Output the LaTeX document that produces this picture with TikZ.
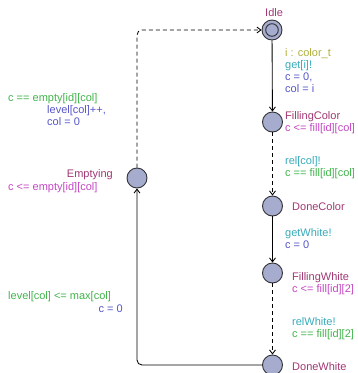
\documentclass[tikz,border=0pt]{standalone}
\usepackage{fontspec}
\setmainfont{Liberation Sans}
\usetikzlibrary{arrows.meta}
\definecolor{locfill}{RGB}{165,172,205}
\definecolor{locdraw}{RGB}{50,50,55}
\definecolor{namecol}{RGB}{160,55,115}
\definecolor{invcol}{RGB}{195,70,195}
\definecolor{selcol}{RGB}{175,175,60}
\definecolor{synccol}{RGB}{55,170,185}
\definecolor{updcol}{RGB}{85,85,200}
\definecolor{guardcol}{RGB}{65,180,75}
\tikzset{
  loc/.style={circle, draw=locdraw, fill=locfill, line width=0.9pt, minimum size=20pt, inner sep=0pt},
  lbl/.style={anchor=base west, inner sep=0pt, font=\fontsize{11}{12}\selectfont},
  lble/.style={anchor=base east, inner sep=0pt, font=\fontsize{11}{12}\selectfont},
  edge/.style={draw=black, line width=0.85pt, -{Straight Barb[length=4pt,width=6pt]}},
  dedge/.style={edge, dash pattern=on 4pt off 3pt},
}
\begin{document}
\begin{tikzpicture}[x=1pt,y=-1pt]
\useasboundingbox (0,0) rectangle (358,373);
% locations
\node[loc] (Idle) at (272,30) {};
\draw[locdraw, line width=0.9pt] (Idle.center) circle (6.3pt);
\node[loc] (FillingColor) at (272.5,122) {};
\node[loc] (DoneColor) at (272.5,206) {};
\node[loc] (FillingWhite) at (272.5,273) {};
\node[loc] (DoneWhite) at (272.5,365) {};
\node[loc] (Emptying) at (137,178) {};
% edges
\draw[edge] (Idle) -- (FillingColor);
\draw[dedge] (FillingColor) -- (DoneColor);
\draw[edge] (DoneColor) -- (FillingWhite);
\draw[dedge] (FillingWhite) -- (DoneWhite);
\draw[edge, rounded corners=5pt] (DoneWhite) -| (Emptying);
\draw[dedge, rounded corners=5pt] (Emptying) |- (Idle);
% right labels
\node[lbl, text=namecol] (tIdle) at (265,16.5) {Idle};
\node[lbl, text=selcol] (t1) at (285,56) {i : color\_t};
\node[lbl, text=synccol] (t2) at (285,68) {get[i]!};
\node[lbl, text=updcol] (t3) at (285,80) {c = 0,};
\node[lbl, text=updcol] (t4) at (285,92) {col = i};
\node[lbl, text=namecol] (tFC) at (285,119) {FillingColor};
\node[lbl, text=invcol] (t5) at (285,131) {c <= fill[id][col]};
\node[lbl, text=synccol] (t6) at (285,164) {rel[col]!};
\node[lbl, text=guardcol] (t7) at (285,176) {c == fill[id][col]};
\node[lbl, text=namecol] (tDC) at (292,210) {DoneColor};
\node[lbl, text=synccol] (t8) at (285,236) {getWhite!};
\node[lbl, text=updcol] (t9) at (285,248) {c = 0};
\node[lbl, text=namecol] (tFW) at (292,280) {FillingWhite};
\node[lbl, text=invcol] (t10) at (292,292) {c <= fill[id][2]};
\node[lbl, text=synccol] (t11) at (292,325) {relWhite!};
\node[lbl, text=guardcol] (t12) at (292,337) {c == fill[id][2]};
\node[lbl, text=namecol] (tDW) at (292,370) {DoneWhite};
% left labels
\node[lbl, text=guardcol] (t13) at (8,101) {c == empty[id][col]};
\node[lbl, text=updcol] (t14) at (47,113) {level[col]++,};
\node[lbl, text=updcol] (t15) at (47,125) {col = 0};
\node[lble, text=namecol] (tE) at (113,177) {Emptying};
\node[lbl, text=invcol] (t16) at (8,190) {c <= empty[id][col]};
\node[lbl, text=guardcol] (t17) at (8,299) {level[col] <= max[col]};
\node[lble, text=updcol] (t18) at (123,312) {c = 0};
\end{tikzpicture}
\end{document}
